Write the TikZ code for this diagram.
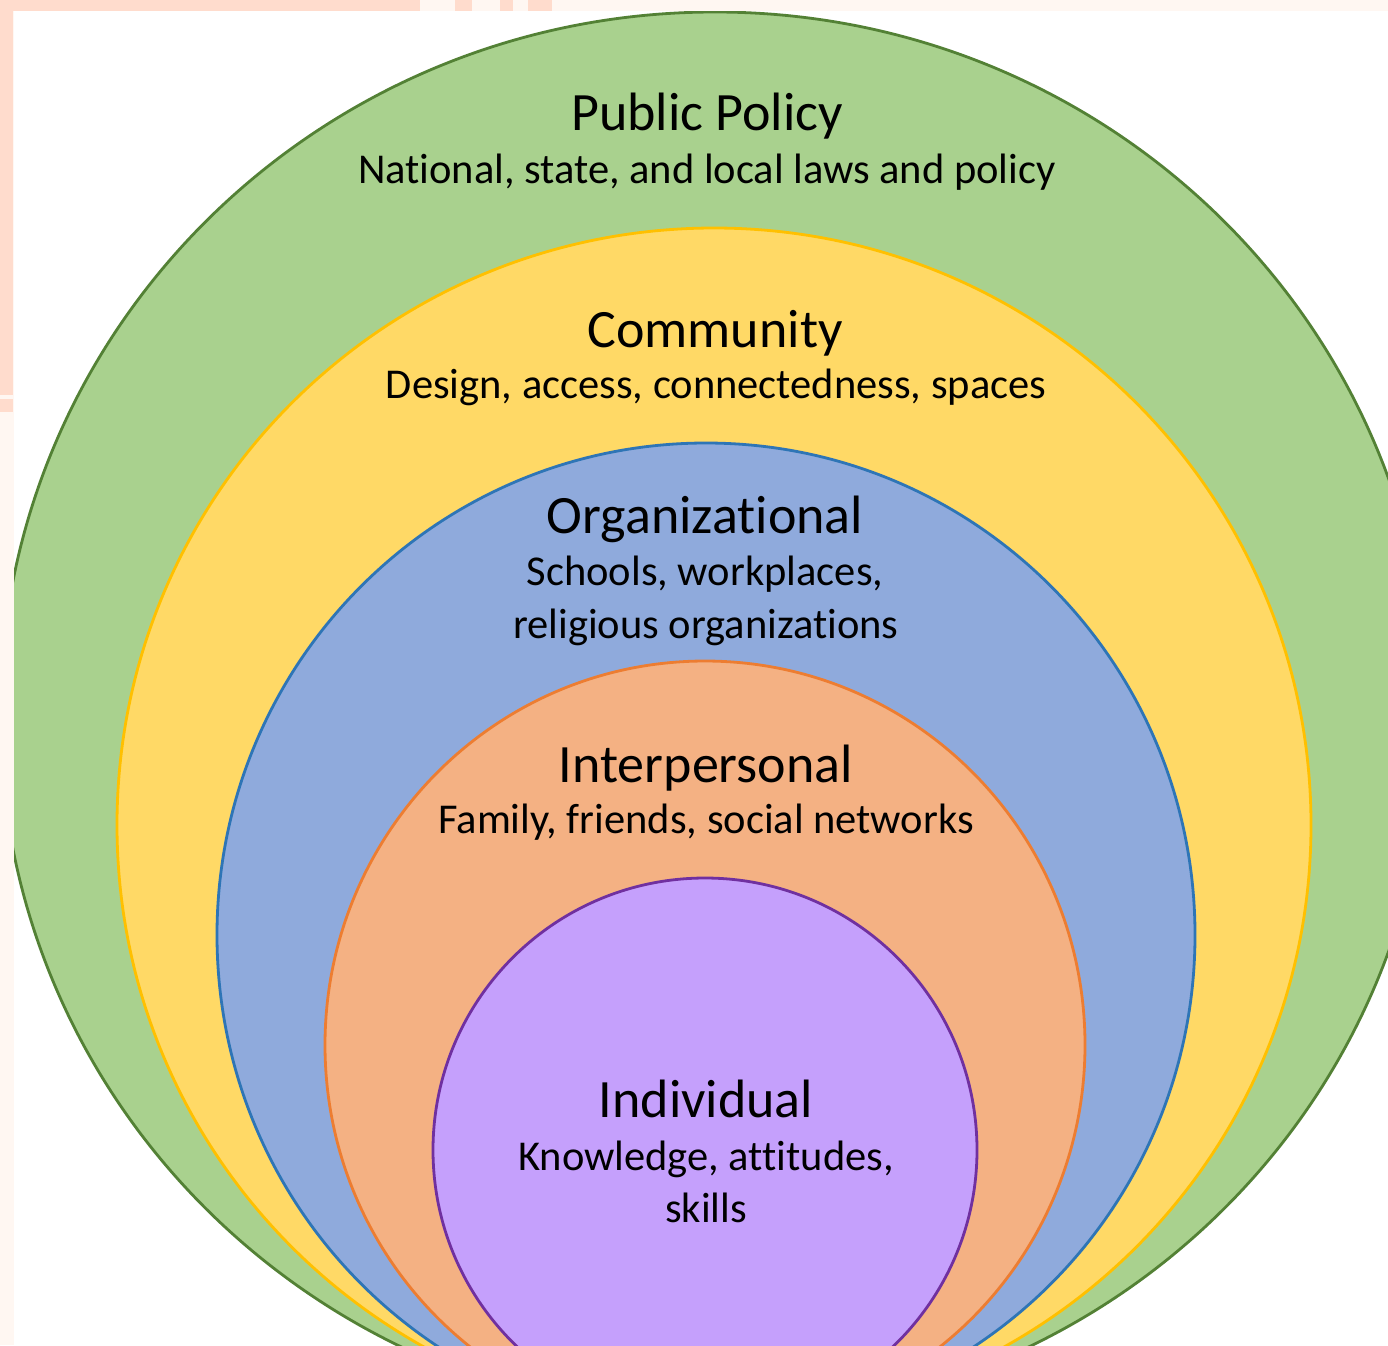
\documentclass[tikz,border=0pt]{standalone}
\usepackage{fontspec}
\setmainfont{Carlito}[RawFeature=-liga,RawFeature=-clig,RawFeature=-dlig,RawFeature=-calt]
\definecolor{bgpeach}{HTML}{FFF7F2}
\definecolor{peach}{HTML}{FFDCCD}
\definecolor{greenfill}{HTML}{A9D18E}
\definecolor{greenline}{HTML}{538135}
\definecolor{yellowfill}{HTML}{FFD966}
\definecolor{yellowline}{HTML}{FFC000}
\definecolor{bluefill}{HTML}{8FAADC}
\definecolor{blueline}{HTML}{2E75B6}
\definecolor{orangefill}{HTML}{F4B183}
\definecolor{orangeline}{HTML}{ED7D31}
\definecolor{purplefill}{HTML}{C5A0FC}
\definecolor{purpleline}{HTML}{7030A0}
\tikzset{
  layer/.style={line width=2.8pt},
  titletext/.style={anchor=base, inner sep=0pt, font=\fontsize{54}{54}\selectfont},
  subtext/.style={anchor=base, inner sep=0pt, font=\fontsize{42.5}{42.5}\selectfont},
}
\begin{document}
\begin{tikzpicture}[x=1pt,y=-1pt]
\useasboundingbox (0,0) rectangle (1388,1345);
% background frame
\fill[bgpeach] (0,0) rectangle (1388,1345);
\fill[peach] (0,0) rectangle (420,11);
\fill[peach] (0,0) rectangle (13,395);
\fill[peach] (0,399) rectangle (13,412);
\fill[peach] (455,0) rectangle (472,11);
\fill[peach] (500,0) rectangle (513,11);
\fill[peach] (528,0) rectangle (552,11);
\fill[white] (14,11) rectangle (1388,1345);
\begin{scope}
\clip (14,11) rectangle (1388,1345);
\filldraw[layer, fill=greenfill, draw=greenline] (715,715) ellipse [x radius=715pt, y radius=703pt];
\filldraw[layer, fill=yellowfill, draw=yellowline] (714,825) ellipse [x radius=597pt, y radius=597pt];
\filldraw[layer, fill=bluefill, draw=blueline] (706,935) ellipse [x radius=489pt, y radius=492pt];
\filldraw[layer, fill=orangefill, draw=orangeline] (705,1045) ellipse [x radius=380pt, y radius=384pt];
\filldraw[layer, fill=purplefill, draw=purpleline] (705,1150) ellipse [x radius=272pt, y radius=272pt];
\end{scope}
% labels
\node[titletext] (pp) at (707,130) {Public Policy};
\node[subtext] (ppsub) at (707,183) {National, state, and local laws and policy};
\node[titletext] (com) at (715,347) {Community};
\node[subtext] (comsub) at (716,398) {Design, access, connectedness, spaces};
\node[titletext] (org) at (705,533) {Organizational};
\node[subtext] (orgsub1) at (705,585) {Schools, workplaces,};
\node[subtext] (orgsub2) at (706,638) {religious organizations};
\node[titletext] (inter) at (706,782) {Interpersonal};
\node[subtext] (intersub) at (706,833) {Family, friends, social networks};
\node[titletext] (ind) at (706,1117) {Individual};
\node[subtext] (indsub1) at (706,1170) {Knowledge, attitudes,};
\node[subtext] (indsub2) at (706,1222) {skills};
\end{tikzpicture}
\end{document}
